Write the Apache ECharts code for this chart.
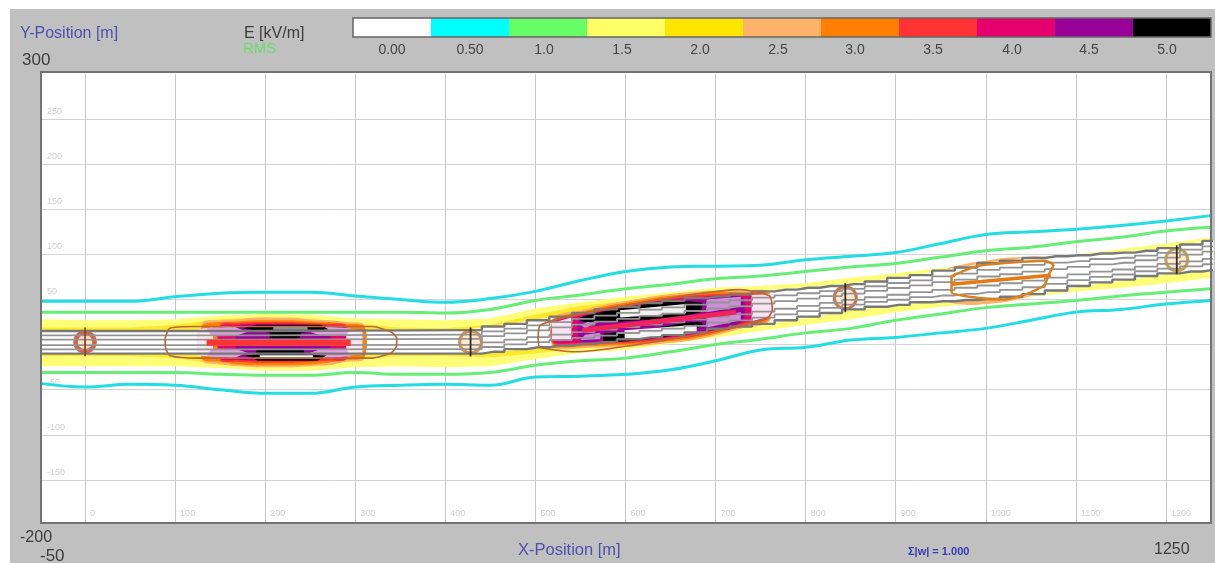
<!DOCTYPE html>
<html><head><meta charset="utf-8">
<style>html,body{margin:0;padding:0;background:#fff}#c{width:1215px;height:563px}</style>
<script src="https://cdn.jsdelivr.net/npm/echarts@6/dist/echarts.min.js"></script>
</head><body><div id="c"></div>
<script>
// ---- colour scale
const scaleLabels = ['0.00','0.50','1.0','1.5','2.0','2.5','3.0','3.5','4.0','4.5','5.0'];
// ---- axis ticks
const xTicks = [0,100,200,300,400,500,600,700,800,900,1000,1100,1200];
const yTicks = [-150,-100,-50,0,50,100,150,200,250];
// ---- field contours, sampled along x
const contourX = [-50,0,50,100,150,200,250,300,350,400,450,500,550,600,650,700,750,800,850,900,950,1000,1050,1100,1150,1200,1250];
const cyanUp   = [48,48,48,53,57,58,58,54,50,47,51,59,71,81,86,87,88,94,98,102,112,122,125,128,132,137,143];
const cyanLow  = [-43,-47,-44,-45,-50,-54,-54,-47,-45,-44,-45,-36,-35,-33,-28,-18,-6,-3,5,8,13,18,27,36,39,45,49];
const greenUp  = [36,36,36,36,36,36,36,36,36,35,39,49,55,62,67,73,76,81,86,90,97,104,108,114,119,126,130];
const greenLow = [-31,-31,-31,-31,-33,-34,-34,-31,-33,-33,-31,-23,-18,-15,-8,0,6,13,18,27,34,41,45,49,54,58,62];
const yellowUp = [28,27,27,28,32,34,33,29,28,27,29,40,47,53,58,63,65,68,74,79,85,91,96,100,106,112,119];
const yellowLow= [-24,-24,-24,-24,-26,-29,-29,-25,-24,-25,-24,-16,-9,-6,1,8,15,22,28,36,42,47,53,59,63,68,74];
const goldUp   = [19,19,19,22,28,30,28,23,19,18,22,33,43,48,54,57,59,59,63,67,77,85,88,90,95,102,106];
const goldLow  = [-13,-13,-13,-15,-22,-24,-24,-16,-13,-13,-14,-10,-4,0,6,14,22,31,37,44,48,53,59,68,75,79,84];
// ---- conductors
const wireX = [-50,428,453,478,503,528,553,578,603,628,653,678,703,728,753,778,803,828,853,878,903,928,953,978,1003,1028,1053,1078,1103,1128,1153,1178,1203,1228,1253];
const wireMid = [2.5,3,6,9,12,15,18,21,24,27,29.5,32.5,35.5,38,41,44,47,50,53,56,59,62,65,67.5,70.5,73,76,79,82,85,87,90,93,96,99];
const wireHalf = [12.5,13,14,14,15,16,17,18,18,19,19,19,18,18,18,17,16,15,14,14,15,15,17,18,20,20,20,19,17,16,15,14,14,15,16];
const wireShare = [1,0.62,0.25,-0.25,-0.62,-1];
// ---- towers
const towerX = [0,428,844,1212];
const towerY = [3,3,52,94];
// ---- first hot spot
const hotAX = [130,150,170,190,210,230,250,270,290,310];
const a25Up = [24,27,28,30,30,30,28,27,25,22];
const a25Low= [-18,-22,-24,-25,-25,-25,-24,-23,-19,-16];
const a30Up = [21,25,26,27,27,27,26,25,23,20];
const a30Low= [-16,-19,-22,-23,-23,-23,-22,-20,-17,-14];
const hotAXin = [150,170,190,210,230,250,270,290];
const a35Up = [22,24,25,25,25,24,23,21];
const a35Low= [-17,-19,-20,-20,-20,-19,-18,-16];
const a40Up = [20,22,23,23,23,22,21,18];
const a40Low= [-15,-17,-18,-18,-18,-17,-16,-14];
const a45X  = [170,190,210,230,250,270];
const a45Up = [20,21,21,21,20,19];
const a45Low= [-15,-16,-16,-16,-15,-14];
const aOutline = [[89,7],[94,18],[122,20],[319,20],[340,14],[346,7],[346,-1],[340,-9],[319,-15],[122,-15],[94,-12],[89,-1]];
const aCaps = [
  [[124,17],[142,19],[142,-13],[124,-12]],
  [[290,17],[308,16],[308,-11],[290,-12]]];
const aIslands = [
  [[135,18],[165,20],[180,14],[168,10],[140,10]],
  [[295,18],[265,20],[250,14],[262,10],[290,10]],
  [[135,-13],[165,-15],[180,-9],[168,-5],[140,-5]],
  [[295,-13],[265,-15],[250,-9],[262,-5],[290,-5]]];
const aBlack = [
  [[175,18],[190,22],[262,22],[270,17],[240,13],[238,7],[205,7],[205,13]],
  [[178,-12],[192,-18],[258,-18],[268,-12],[243,-11],[243,-5],[190,-5],[190,-11]]];
const aCoreX = [135,295];  const aCoreY = [2,2];
const aGreyX = [209,247];  const aGreyY = [18,18];
const aWhiteX = [194,253]; const aWhiteY = [-13,-13];
// ---- second hot spot
const hotBX = [520,550,580,610,640,670,700,730,760];
const b25Up = [30,38,45,50,55,58,60,60,58];
const b25Low= [-3,-4,-3,-2,1,4,10,18,26];
const b30Up = [28,36,43,48,53,56,58,58,56];
const b30Low= [-1,-2,-1,0,3,6,12,20,28];
const b35Up = [26,34,41,46,51,54,56,56,54];
const b35Low= [1,0,1,2,5,8,14,22,30];
const b40Up = [24,32,39,44,49,52,54,54,52];
const b40Low= [3,2,3,4,7,10,16,24,32];
const b45X  = [550,580,610,640,670,700,730];
const b45Up = [30,37,42,47,50,52,52];
const b45Low= [4,5,6,9,12,18,26];
const bOutline = [[503,5],[505,21],[544,33],[727,61],[760,54],[763,38],[758,30],[722,19],[544,-8],[505,-3]];
const bCaps = [
  [[518,24],[540,30],[540,5],[518,4]],
  [[740,55],[765,56],[765,32],[740,26]]];
const bBlack = [
  [[547,29],[572,36],[616,44],[660,48],[685,46],[683,36],[638,29],[599,26],[555,25]],
  [[576,3],[605,4],[660,11],[685,21],[685,25],[666,24],[605,14],[576,12]]];
const bHatch = [
  [[594,38],[667,45],[667,35],[594,30]],
  [[599,16],[679,22],[679,13],[599,5]]];
const bIslands = [
  [[550,22],[575,31],[575,27],[555,18]],
  [[550,5],[572,6],[572,13],[555,11]],
  [[690,50],[728,53],[728,42],[690,36]],
  [[690,30],[728,36],[728,27],[690,19]]];
const bCoreX = [552,723]; const bCoreY = [16,36];
// ---- third hot spot
const hotCX = [955,980,1000,1020,1040,1060,1075];
const c25Up = [82,90,93,96,97,98,96];
const c25Low= [50,44,45,47,51,58,66];
const cOutline = [[962,76],[990,87],[1015,90],[1065,93],[1075,88],[1070,78],[1065,66],[1045,56],[1020,50],[990,52],[962,58]];
const cCoreX = [962,1072]; const cCoreY = [67,77];

// ---- helpers
const pts = (xs, ys) => xs.map((x, i) => [x, ys[i]]);
const band = (xs, up, low) => pts(xs, up).concat(pts(xs, low).reverse());
const poly = (points, fill, smooth) => ({
  type:'custom', coordinateSystem:'cartesian2d', xAxisIndex:0, yAxisIndex:0, data:points, silent:true,
  encode:{x:0,y:1},
  renderItem:(p, api) => p.dataIndex !== 0 ? null : ({
    type:'polygon',
    shape:{points:points.map(q => api.coord(q)), smooth:smooth || 0},
    style:{fill:fill}
  })
});
const line = (xs, ys, color, width, extra) => Object.assign({
  type:'line', xAxisIndex:0, yAxisIndex:0, data:pts(xs, ys), showSymbol:false, symbol:'none', silent:true,
  lineStyle:{color:color, width:width}, animation:false
}, extra || {});
const loop = (points, color, width) => ({
  type:'line', xAxisIndex:0, yAxisIndex:0, data:points.concat([points[0]]), symbol:'none', silent:true,
  smooth:0.2, lineStyle:{color:color, width:width}
});

const C = {white:'#ffffff',cyan:'#22dde2',green:'#66ee77',yellow:'#ffff77',gold:'#ffe92e',pale:'#ffb366',
  orange:'#ff8000',red:'#ff3333',mag:'#e6006e',purple:'#990099',black:'#000000',brown:'#b8683a'};
const scaleColors = ['#ffffff','#00ffff','#66ff66','#ffff66','#ffe600','#ffb366','#ff8000','#ff3333','#e6006e','#990099','#000000'];
const scaleLabelNudge = [0,0,8,8,8,8,10,10,8,10,10];

const wireUp = wireMid.map((m, i) => m + wireHalf[i] + 1);
const wireLow = wireMid.map((m, i) => m - wireHalf[i] - 1);

const series = [];
series.push(poly(band(contourX, yellowUp, yellowLow), C.yellow, 0));
series.push(poly(band(contourX, goldUp, goldLow), C.gold, 0));
series.push(poly(band(hotCX, c25Up, c25Low), C.pale, 0.3));
series.push(poly(band(wireX, wireUp, wireLow), C.white, 0));
series.push(line(contourX, cyanUp, C.cyan, 3, {smooth:0.4}));
series.push(line(contourX, cyanLow, C.cyan, 3, {smooth:0.4}));
series.push(line(contourX, greenUp, C.green, 3, {smooth:0.4}));
series.push(line(contourX, greenLow, C.green, 3, {smooth:0.4}));
// hot spot A envelopes
series.push(poly(band(hotAX, a25Up, a25Low), C.pale, 0.3));
series.push(poly(band(hotAX, a30Up, a30Low), C.orange, 0.3));
series.push(poly(band(hotAXin, a35Up, a35Low), C.red, 0.3));
series.push(poly(band(hotAXin, a40Up, a40Low), C.mag, 0.3));
series.push(poly(band(a45X, a45Up, a45Low), C.purple, 0.3));
aCaps.forEach(s => series.push(poly(s, '#fbeaf3', 0)));
aIslands.forEach(s => series.push(poly(s, '#dfa0de', 0)));
// hot spot B envelopes
series.push(poly(band(hotBX, b25Up, b25Low), C.pale, 0.3));
series.push(poly(band(hotBX, b30Up, b30Low), C.orange, 0.3));
series.push(poly(band(hotBX, b35Up, b35Low), C.red, 0.3));
series.push(poly(band(hotBX, b40Up, b40Low), C.mag, 0.3));
series.push(poly(band(b45X, b45Up, b45Low), C.purple, 0.3));
bCaps.forEach(s => series.push(poly(s, '#f8e4f2', 0)));
bIslands.forEach(s => series.push(poly(s, '#cf8fd8', 0)));
bBlack.forEach(s => series.push(poly(s, C.black, 0.2)));
bHatch.forEach(s => series.push(poly(s, '#f2f2f2', 0)));
// conductors
wireShare.forEach(k => series.push(line(wireX, wireMid.map((m, i) => m + k * wireHalf[i]),
  Math.abs(k) === 1 ? '#787878' : '#949494', Math.abs(k) === 1 ? 2.4 : 1.8, {step:'middle'})));
// outlines and cores
series.push(loop(aOutline, C.brown, 1.6));
series.push(loop(bOutline, C.brown, 1.6));
series.push(loop(cOutline, '#d9801e', 2.5));
aBlack.forEach(s => series.push(poly(s, C.black, 0)));
series.push(line(aCoreX, aCoreY, C.red, 6));
series.push(line(bCoreX, bCoreY, '#f0245a', 5));
series.push(line(cCoreX, cCoreY, '#e57a10', 3.5));
series.push(line(aGreyX, aGreyY, '#909090', 3));
series.push(line(aWhiteX, aWhiteY, '#ffffff', 2));
// towers
const ringColors = ['#c8401e','#d0762a','#c8501e','#b8902a'];
towerX.forEach((x, i) => {
  series.push({type:'scatter', xAxisIndex:0, yAxisIndex:0, data:[[x, towerY[i]]], symbol:'circle', symbolSize:i === 0 ? 19 : 22, silent:true,
    itemStyle:{color:'rgba(255,190,110,0.4)', borderColor:ringColors[i], borderWidth:i === 0 ? 4.5 : 3}});
  series.push({type:'line', xAxisIndex:0, yAxisIndex:0, data:[[x, towerY[i] + 16],[x, towerY[i] - 16]], symbol:'none', silent:true,
    lineStyle:{color:i === 0 ? '#a0421e' : '#3a2a1a', width:1.8}});
});
// colour scale
series.push({type:'bar', xAxisIndex:1, yAxisIndex:1, barWidth:'100%', silent:true,
  data:scaleLabels.map((l, i) => ({value:1, itemStyle:{color:scaleColors[i]}}))});

const txt = (text, x, y, color, size, extra) => ({type:'text', x:x, y:y, z:101,
  style:Object.assign({text:text, fill:color, font:size + 'px "Liberation Sans", Arial, sans-serif', textVerticalAlign:'middle'}, extra || {})});

const chart = echarts.init(document.getElementById('c'), null, {renderer:'canvas'});
chart.setOption({
  animation:false,
  backgroundColor:'#ffffff',
  grid:[
    {left:40, top:74, width:1171, height:451, containLabel:false},
    {left:353, top:18, width:858, height:19, containLabel:false}
  ],
  xAxis:[
    {type:'value', gridIndex:0, min:-50, max:1250,
      axisLine:{show:false},
      axisTick:{show:false, customValues:xTicks},
      axisLabel:{show:true, inside:true, customValues:xTicks, color:'#cfcfcf', fontSize:9, align:'left', margin:7,
        fontFamily:'Liberation Sans', formatter:v => '  ' + v},
      splitLine:{show:true, lineStyle:{color:'#c9c9c9', width:1}}},
    {type:'category', gridIndex:1,
      data:scaleLabels.map((l, i) => ({value:l, textStyle:{padding:[0, scaleLabelNudge[i], 0, 0]}})),
      axisLine:{show:false}, axisTick:{show:false},
      axisLabel:{color:'#454545', fontSize:14, margin:6, interval:0, fontFamily:'Liberation Sans'},
      splitLine:{show:false}}
  ],
  yAxis:[
    {type:'value', gridIndex:0, min:-200, max:300,
      axisLine:{show:false},
      axisTick:{show:false, customValues:yTicks},
      axisLabel:{show:true, inside:true, customValues:yTicks, color:'#cfcfcf', fontSize:9, align:'left', verticalAlign:'bottom', margin:7,
        padding:[0,0,3,0], fontFamily:'Liberation Sans'},
      splitLine:{show:true, lineStyle:{color:'#d4d4d4', width:1}}},
    {type:'value', gridIndex:1, min:0, max:1, show:false}
  ],
  series:series,
  graphic:{elements:[
    {type:'rect', z:-2, shape:{x:10,y:9,width:1205,height:554}, style:{fill:'#c0c0c0'}},
    {type:'rect', z:-1, shape:{x:41,y:72,width:1170,height:451}, style:{fill:'#ffffff'}},
    {type:'rect', z:100, shape:{x:36,y:524,width:1179,height:5}, style:{fill:'#c0c0c0'}},
    {type:'rect', z:100, shape:{x:41,y:72,width:1170,height:451}, style:{fill:'none', stroke:'#737373', lineWidth:2}},
    {type:'rect', z:100, shape:{x:353,y:18,width:858,height:19}, style:{fill:'none', stroke:'#666666', lineWidth:1.5}},
    txt('Y-Position [m]', 20, 34, '#4f4fb0', 16),
    txt('E [kV/m]', 244, 34, '#3c3c3c', 16),
    txt('RMS', 243, 49, '#66e066', 15),
    txt('300', 22, 60, '#3c3c3c', 17),
    txt('-200', 20, 538, '#3c3c3c', 16),
    txt('-50', 40, 556, '#3c3c3c', 17),
    txt('X-Position [m]', 518, 550, '#4f4fb0', 16.5),
    txt('\u03a3|w| = 1.000', 908, 552, '#3a3ab8', 11, {font:'bold 11px "Liberation Sans", Arial, sans-serif'}),
    txt('1250', 1154, 550, '#3c3c3c', 16)
  ]}
});
</script></body></html>
